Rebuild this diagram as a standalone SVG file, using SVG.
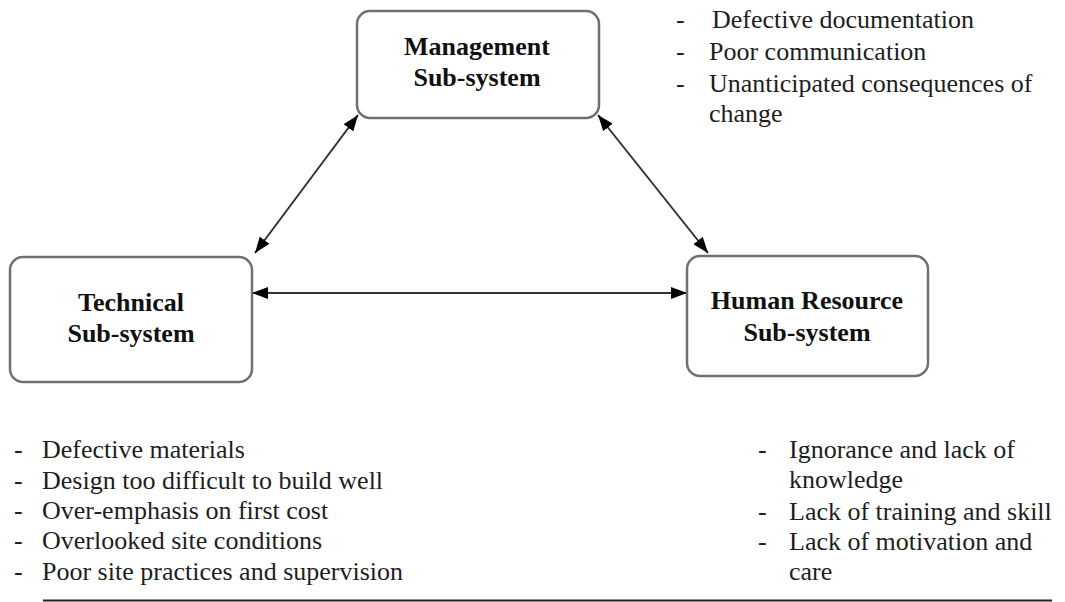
<svg xmlns="http://www.w3.org/2000/svg" width="1065" height="602" viewBox="0 0 1065 602">
  <style>
    .box { fill: #ffffff; stroke: #707070; stroke-width: 2.5; }
    .title { font-family: "Liberation Serif", "Times New Roman", serif; font-weight: bold; font-size: 26px; fill: #111111; text-anchor: middle; }
    .item { font-family: "Liberation Serif", "Times New Roman", serif; font-size: 26px; fill: #1e1e1e; }
    .conn { stroke: #333333; stroke-width: 2; fill: none; marker-start: url(#arrow); marker-end: url(#arrow); }
  </style>
  <defs>
    <marker id="arrow" viewBox="0 0 16 12" refX="16" refY="6" markerWidth="16" markerHeight="12" markerUnits="userSpaceOnUse" orient="auto-start-reverse">
      <path d="M0,0 L16,6 L0,12 z" fill="#000000"/>
    </marker>
  </defs>
  <rect width="1065" height="602" fill="#ffffff"/>

  <g id="connectors">
    <line class="conn" x1="358" y1="115" x2="255" y2="253"/>
    <line class="conn" x1="598" y1="115" x2="708" y2="253"/>
    <line class="conn" x1="252" y1="293" x2="687" y2="293"/>
  </g>

  <g id="management">
    <rect class="box" x="357" y="11" width="242" height="107" rx="13"/>
    <text class="title" x="477" y="55">Management</text>
    <text class="title" x="477" y="86">Sub-system</text>
  </g>

  <g id="technical">
    <rect class="box" x="10" y="257" width="242" height="125" rx="13"/>
    <text class="title" x="131" y="311">Technical</text>
    <text class="title" x="131" y="342">Sub-system</text>
  </g>

  <g id="human">
    <rect class="box" x="687" y="256" width="241" height="120" rx="13"/>
    <text class="title" x="807" y="309">Human Resource</text>
    <text class="title" x="807" y="341">Sub-system</text>
  </g>

  <g id="management-list">
    <text class="item" x="676" y="28">-</text>
    <text class="item" x="712" y="28">Defective documentation</text>
    <text class="item" x="676" y="60">-</text>
    <text class="item" x="709" y="60">Poor communication</text>
    <text class="item" x="676" y="92">-</text>
    <text class="item" x="709" y="92">Unanticipated consequences of</text>
    <text class="item" x="709" y="122">change</text>
  </g>

  <g id="technical-list">
    <text class="item" x="14" y="458">-</text>
    <text class="item" x="42" y="458">Defective materials</text>
    <text class="item" x="14" y="489">-</text>
    <text class="item" x="42" y="489">Design too difficult to build well</text>
    <text class="item" x="14" y="519">-</text>
    <text class="item" x="42" y="519">Over-emphasis on first cost</text>
    <text class="item" x="14" y="549">-</text>
    <text class="item" x="42" y="549">Overlooked site conditions</text>
    <text class="item" x="14" y="580">-</text>
    <text class="item" x="42" y="580">Poor site practices and supervision</text>
  </g>

  <g id="human-list">
    <text class="item" x="758" y="458">-</text>
    <text class="item" x="789" y="458">Ignorance and lack of</text>
    <text class="item" x="789" y="488">knowledge</text>
    <text class="item" x="758" y="520">-</text>
    <text class="item" x="789" y="520">Lack of training and skill</text>
    <text class="item" x="758" y="550">-</text>
    <text class="item" x="789" y="550">Lack of motivation and</text>
    <text class="item" x="789" y="580">care</text>
  </g>

  <line id="rule" x1="43" y1="600.5" x2="1052" y2="600.5" stroke="#222222" stroke-width="2"/>
</svg>
